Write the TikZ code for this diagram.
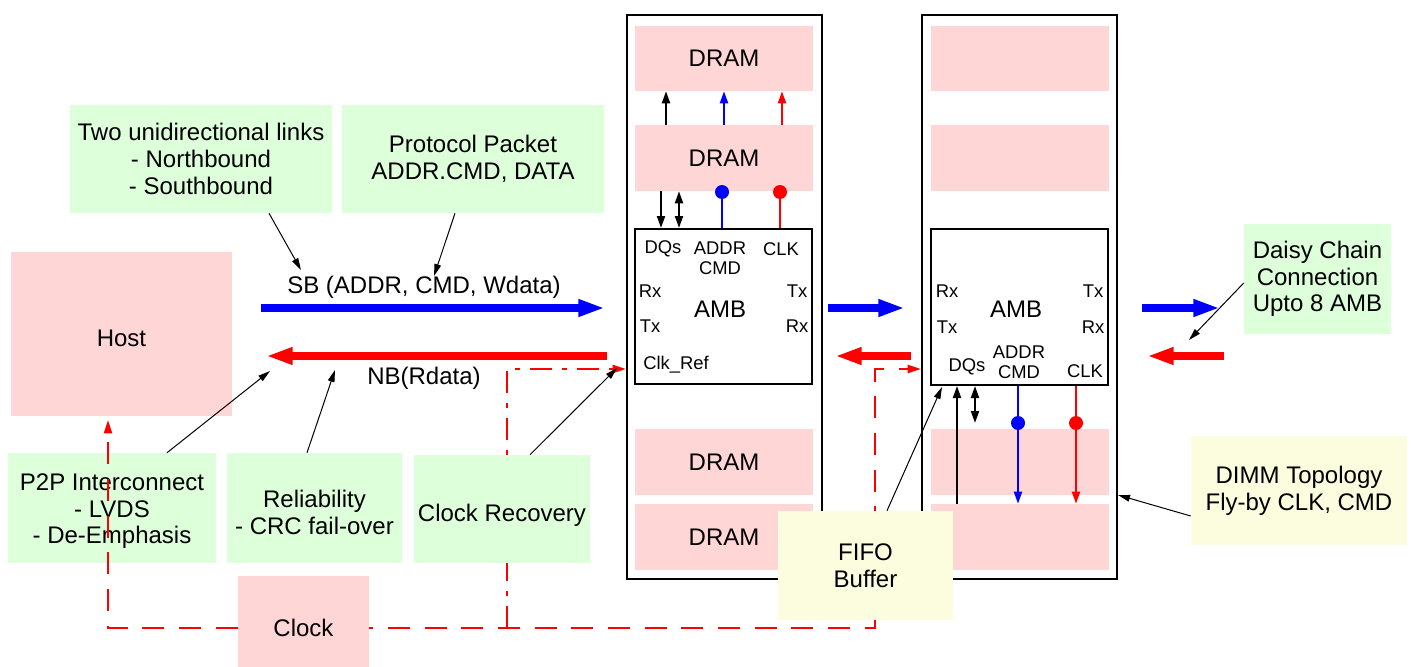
\documentclass[tikz,border=0pt]{standalone}
\usepackage{fontspec}
\setmainfont{Liberation Sans}
\usetikzlibrary{arrows.meta}

\definecolor{dimmpink}{RGB}{255,214,214}
\definecolor{notegreen}{RGB}{221,255,218}
\definecolor{noteyellow}{RGB}{252,252,222}
\newcommand{\bigtxt}{\fontsize{18}{20}\selectfont}
\newcommand{\smalltxt}{\fontsize{13.8}{15}\selectfont}

\tikzset{
  wh/.style 2 args={minimum width=#1*0.75pt, minimum height=#2*0.75pt},
  pinkbox/.style={fill=dimmpink, inner sep=0pt, font=\bigtxt, align=center},
  greenbox/.style={fill=notegreen, inner sep=0pt, font=\bigtxt, align=center},
  yellowbox/.style={fill=noteyellow, inner sep=0pt, font=\bigtxt, align=center},
  dimmframe/.style={draw, line width=1.5pt, inner sep=0pt},
  lbl/.style={inner sep=0pt, font=\smalltxt, align=center},
  leader/.style={line width=0.75pt, -{Triangle[length=9pt,width=5pt]}},
  sig/.style={line width=1.5pt, -{Triangle[length=9pt,width=6pt]}},
  sigboth/.style={line width=1.5pt, {Triangle[length=9pt,width=6pt]}-{Triangle[length=9pt,width=6pt]}},
  bus/.style={line width=6pt, -{Triangle[length=20pt,width=12pt]}},
  clkline/.style={red, line width=1.5pt, dash pattern=on 16.5pt off 11pt, -{Triangle[length=10pt,width=6pt]}},
  clkdashdot/.style={clkline, dash pattern=on 16.5pt off 7.5pt on 3.75pt off 7.5pt},
  pindot/.style={circle, fill, inner sep=0pt, minimum size=10.5pt},
}

\begin{document}
\begin{tikzpicture}[x=0.75pt,y=0.75pt,yscale=-1,xscale=1]
\useasboundingbox (0,0) rectangle (1411,667);

%Shape: Rectangle
\node[pinkbox, wh={221}{164}, text height=19pt] (host) at (121.5,334) {Host};
%Shape: Rectangle
\node[greenbox, wh={262}{108}] (twolinks) at (201,159) {Two unidirectional links\\- Northbound\\- Southbound};
%Shape: Rectangle
\node[greenbox, wh={262}{108}] (protocol) at (473,159) {Protocol Packet\\ADDR.CMD, DATA};
%Shape: Rectangle
\node[greenbox, wh={208}{110}, text height=57.5pt] (p2p) at (112,508) {P2P Interconnect\\- LVDS\\- De-Emphasis};
%Shape: Rectangle
\node[greenbox, wh={175}{110}, text height=40pt] (reliab) at (314.5,508) {Reliability\\- CRC fail-over};
%Shape: Rectangle
\node[pinkbox, wh={131}{104}] (clock) at (303.5,628) {Clock};
%Shape: Rectangle
\node[greenbox, wh={147}{110}] (daisy) at (1317.5,279) {Daisy Chain\\Connection\\Upto 8 AMB};
%Shape: Rectangle
\node[yellowbox, wh={216}{109}] (topo) at (1299,490.5) {DIMM Topology\\Fly-by CLK, CMD};

%Shape: DIMM 1
\node[dimmframe, wh={195}{564}] (dimm1) at (724.5,297) {};
\node[pinkbox, wh={178}{65}] (dram1a) at (724,58.5) {DRAM};
\node[pinkbox, wh={178}{66}] (dram1b) at (724,158) {DRAM};
\node[pinkbox, wh={178}{66}] (dram1c) at (724,462) {DRAM};
\node[pinkbox, wh={178}{66}] (dram1d) at (724,537) {DRAM};
\node[dimmframe, wh={177}{155}] (amb1) at (723.5,306.5) {};
% Text Node
\node[lbl, font=\bigtxt] (amb1name) at (720,309) {AMB};
\node[lbl] (amb1dq) at (663,249) {DQs};
\node[lbl] (amb1addr) at (720,258) {ADDR\\CMD};
\node[lbl] (amb1clk) at (781,249) {CLK};
\node[lbl] (amb1rxl) at (650,291) {Rx};
\node[lbl] (amb1txl) at (650,326) {Tx};
\node[lbl] (amb1txr) at (797,291) {Tx};
\node[lbl] (amb1rxr) at (797,326) {Rx};
\node[lbl] (amb1ref) at (676,365) {Clk\_Ref};

% DRAM to DRAM
\draw[sig] (666,0 |- dram1b.north) -- (666,0 |- dram1a.south);
\draw[sig, blue] (724,0 |- dram1b.north) -- (724,0 |- dram1a.south);
\draw[sig, red] (782,0 |- dram1b.north) -- (782,0 |- dram1a.south);
% DRAM to AMB
\draw[sig] (661,0 |- dram1b.south) -- (661,0 |- amb1.north);
\draw[sigboth] (679,0 |- dram1b.south) -- (679,0 |- amb1.north);
\node[pindot, blue] (addr1dot) at (722,192) {};
\node[pindot, red] (clk1dot) at (780,192) {};
\draw[blue, line width=1.5pt] (addr1dot.center) -- (addr1dot.center |- amb1.north);
\draw[red, line width=1.5pt] (clk1dot.center) -- (clk1dot.center |- amb1.north);

%Shape: DIMM 2
\node[dimmframe, wh={195}{564}] (dimm2) at (1019.5,297) {};
\node[pinkbox, wh={178}{65}] (dram2a) at (1019.5,58.5) {};
\node[pinkbox, wh={178}{66}] (dram2b) at (1019.5,158) {};
\node[pinkbox, wh={178}{66}] (dram2c) at (1019.5,462) {};
\node[pinkbox, wh={178}{66}] (dram2d) at (1019.5,537) {};
\node[dimmframe, wh={177}{156}] (amb2) at (1019.5,307) {};
% Text Node
\node[lbl, font=\bigtxt] (amb2name) at (1016,309) {AMB};
\node[lbl] (amb2rxl) at (947,291) {Rx};
\node[lbl] (amb2txl) at (947,327) {Tx};
\node[lbl] (amb2txr) at (1093,291) {Tx};
\node[lbl] (amb2rxr) at (1093,327) {Rx};
\node[lbl] (amb2addr) at (1019,362) {ADDR\\CMD};
\node[lbl] (amb2dq) at (967,367) {DQs};
\node[lbl] (amb2clk) at (1085,371) {CLK};

% AMB to DRAM
\node[pindot, blue] (addr2dot) at (1018,423) {};
\node[pindot, red] (clk2dot) at (1076,423) {};
\draw[sig] (957,0 |- dram2d.north) -- (957,0 |- amb2.south);
\draw[sigboth] (975,0 |- amb2.south) -- (975,0 |- addr2dot);
\draw[sig, blue] (addr2dot |- amb2.south) -- (addr2dot |- dram2d.north);
\draw[sig, red] (clk2dot |- amb2.south) -- (clk2dot |- dram2d.north);

% SB / NB links
\coordinate (sb1s) at (261,308);
\coordinate (sb1e) at (605,308);
\coordinate (nb1s) at (607,356);
\coordinate (nb1e) at (266,356);
\draw[bus, blue] (sb1s) -- (sb1e);
\draw[bus, red] (nb1s) -- (nb1e);
\draw[bus, blue] (dimm1.east |- 0,308) ++(5,0) coordinate (sb2s) -- (905,308) coordinate (sb2e);
\draw[bus, red] (911,356) coordinate (nb2s) -- (835,356) coordinate (nb2e);
\draw[bus, blue] (dimm2.east |- 0,308) ++(24,0) coordinate (sb3s) -- (1220,308) coordinate (sb3e);
\draw[bus, red] (1224,356) coordinate (nb3s) -- (1147,356) coordinate (nb3e);
% Text Node
\node[lbl, font=\bigtxt] (sbtxt) at (424,287) {SB (ADDR, CMD, Wdata)};
\node[lbl, font=\bigtxt] (nbtxt) at (424,378) {NB(Rdata)};

% clock distribution
\coordinate (hostclk) at (108,420);
\coordinate (clkturn) at (875,369);
\coordinate (clkjoin) at (507,628);
\draw[clkline] (clock.west) -| (hostclk);
\draw[clkline, dash phase=13.5pt] (clock.east) -| (clkturn) -- (clkturn -| dimm2.west);
\draw[clkdashdot] (clkjoin) |- (dimm1.west |- clkturn);

%Shape: Rectangle
\node[greenbox, wh={176}{108}, text height=22pt] (clkrec) at (502,509) {Clock Recovery};
%Shape: Rectangle
\node[yellowbox, wh={175}{109}] (fifo) at (865.5,565.5) {FIFO\\Buffer};

% notes
\coordinate (sbnote1) at (301,270);
\coordinate (sbnote2) at (434,276);
\coordinate (nbnote1) at (270,371);
\coordinate (nbnote2) at (335,370);
\coordinate (refnote) at (617,368);
\coordinate (fifonote) at (942,387);
\coordinate (daisynote) at (1189,340);
\draw[leader] (twolinks.south -| 269,0) -- (sbnote1);
\draw[leader] (protocol.south -| 455,0) -- (sbnote2);
\draw[leader] (p2p.north -| 167,0) -- (nbnote1);
\draw[leader] (reliab.north -| 307,0) -- (nbnote2);
\draw[leader] (clkrec.north -| 530,0) -- (refnote);
\draw[leader] (fifo.north -| 887,0) -- (fifonote);
\draw[leader] (daisy.west |- 0,283) -- (daisynote);
\draw[leader] (topo.west |- 0,516) -- (dimm2.east |- 0,495);

\end{tikzpicture}
\end{document}
